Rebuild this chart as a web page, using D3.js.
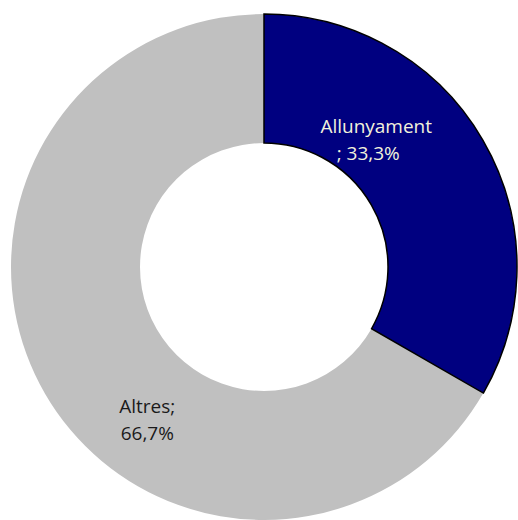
<!DOCTYPE html>
<meta charset="utf-8">
<style>
body { margin: 0; background: #fff; }
.lbl { font-family: "Open Sans", sans-serif; font-size: 19px; }
</style>
<body>
<script src="https://d3js.org/d3.v7.min.js"></script>
<script>

// data
var categories = ["Allunyament", "Altres"];
var values = [33.3, 66.7];
var labelLines = [["Allunyament", "; 33,3%"], ["Altres;", "66,7%"]];
var colors = ["#000080", "#c0c0c0"];

var width = 518, height = 520;
var cx = 264, cy = 267;
var outerR = 253, innerR = 124;

var svg = d3.select("body").append("svg")
    .attr("width", width)
    .attr("height", height);

var g = svg.append("g")
    .attr("transform", "translate(" + cx + "," + cy + ")");

var pie = d3.pie().sort(null).value(function(d) { return d; });
var arcs = pie(values);

var arc = d3.arc().innerRadius(innerR).outerRadius(outerR);

// draw grey first so the navy outline sits on top
g.selectAll("path.slice")
    .data(arcs.slice().reverse())
  .enter().append("path")
    .attr("class", "slice")
    .attr("d", arc)
    .attr("fill", function(d) { return colors[d.index]; })
    .attr("stroke", function(d) { return d.index === 0 ? "#000" : "none"; })
    .attr("stroke-width", 1.5);

// label placement: angle shift and radius picked to match the original
var labelArc = [
  {shift: -0.35, r: 175},
  {shift: -0.372, r: 187}
];
var labelColor = ["#f2f2dc", "#1a1a1a"];

arcs.forEach(function(d, i) {
  var a = (d.startAngle + d.endAngle) / 2 + labelArc[i].shift;
  var x = Math.sin(a) * labelArc[i].r;
  var y = -Math.cos(a) * labelArc[i].r;
  var t = g.append("text")
      .attr("class", "lbl")
      .attr("text-anchor", "middle")
      .attr("fill", labelColor[i])
      .attr("x", x)
      .attr("y", y);
  labelLines[i].forEach(function(line, j) {
    t.append("tspan")
        .attr("x", (i === 0 && j === 1) ? x - 8 : x)
        .attr("dy", j === 0 ? 0 : 27)
        .text(line);
  });
});

</script>
</body>
